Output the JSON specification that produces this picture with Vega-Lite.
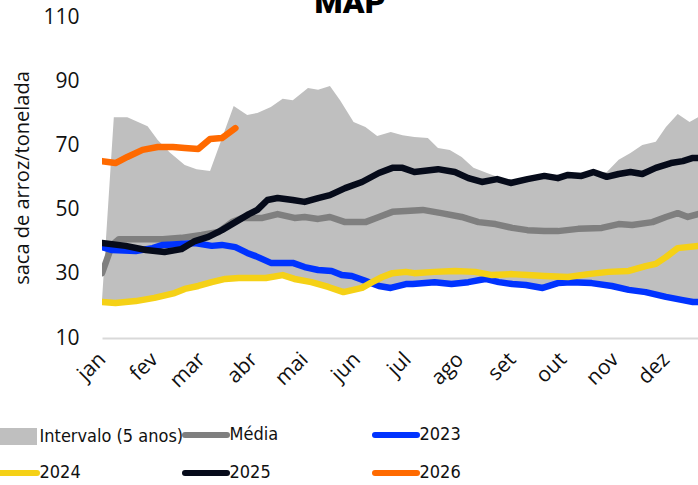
{
  "$schema": "https://vega.github.io/schema/vega-lite/v6.json",
  "width": 596,
  "height": 321,
  "autosize": {"type": "none"},
  "padding": {"left": 102, "top": 17, "right": 0, "bottom": 147},
  "background": "white",
  "title": {"text": "MAP", "fontSize": 32, "fontWeight": 900, "font": "Roboto", "color": "#000000", "anchor": "middle", "dx": -50, "offset": -39, "baseline": "alphabetic"},
  "datasets": {
    "intervalo": [
      {"dia": 0, "min": 21.2, "max": 21.8}, {"dia": 7, "min": 20.9, "max": 78.8}, {"dia": 15, "min": 21.3, "max": 78.8},
      {"dia": 27, "min": 22.2, "max": 76.0}, {"dia": 33, "min": 22.7, "max": 71.7}, {"dia": 40, "min": 23.6, "max": 67.9},
      {"dia": 49, "min": 25.3, "max": 63.9}, {"dia": 56, "min": 26.1, "max": 62.6}, {"dia": 64, "min": 27.2, "max": 62.0},
      {"dia": 78, "min": 28.6, "max": 82.3}, {"dia": 86, "min": 28.7, "max": 79.5}, {"dia": 92, "min": 28.7, "max": 80.1},
      {"dia": 100, "min": 28.8, "max": 82.0}, {"dia": 107, "min": 29.6, "max": 84.5}, {"dia": 113, "min": 28.6, "max": 84.1},
      {"dia": 122, "min": 27.7, "max": 87.9}, {"dia": 128, "min": 26.8, "max": 87.3}, {"dia": 135, "min": 25.8, "max": 88.5},
      {"dia": 141, "min": 24.5, "max": 84.1}, {"dia": 149, "min": 25.0, "max": 77.3}, {"dia": 156, "min": 26.2, "max": 75.7},
      {"dia": 163, "min": 26.2, "max": 72.9}, {"dia": 171, "min": 25.6, "max": 74.2}, {"dia": 178, "min": 26.6, "max": 73.2},
      {"dia": 185, "min": 26.9, "max": 72.6}, {"dia": 193, "min": 27.2, "max": 72.3}, {"dia": 199, "min": 27.3, "max": 69.2},
      {"dia": 206, "min": 26.9, "max": 68.6}, {"dia": 213, "min": 27.1, "max": 66.4}, {"dia": 220, "min": 27.7, "max": 63.0},
      {"dia": 228, "min": 28.3, "max": 61.4}, {"dia": 234, "min": 27.4, "max": 60.2}, {"dia": 242, "min": 26.8, "max": 58.3},
      {"dia": 252, "min": 26.4, "max": 59.5}, {"dia": 262, "min": 25.7, "max": 60.5}, {"dia": 270, "min": 27.1, "max": 59.8},
      {"dia": 276, "min": 27.3, "max": 60.8}, {"dia": 284, "min": 27.3, "max": 60.5}, {"dia": 291, "min": 27.1, "max": 61.7},
      {"dia": 299, "min": 26.5, "max": 61.7}, {"dia": 306, "min": 25.7, "max": 65.5}, {"dia": 313, "min": 24.9, "max": 67.6},
      {"dia": 320, "min": 24.4, "max": 70.1}, {"dia": 328, "min": 23.6, "max": 71.1}, {"dia": 334, "min": 22.8, "max": 75.7},
      {"dia": 341, "min": 22.1, "max": 79.8}, {"dia": 348, "min": 21.3, "max": 77.3}, {"dia": 353, "min": 21.2, "max": 78.8}
    ],
    "series": [
      {"serie": "Média", "dia": 0, "valor": 30.2}, {"serie": "Média", "dia": 6, "valor": 39.0}, {"serie": "Média", "dia": 10, "valor": 40.8},
      {"serie": "Média", "dia": 21, "valor": 40.8}, {"serie": "Média", "dia": 36, "valor": 40.8}, {"serie": "Média", "dia": 47, "valor": 41.2},
      {"serie": "Média", "dia": 59, "valor": 42.1}, {"serie": "Média", "dia": 69, "valor": 43.0}, {"serie": "Média", "dia": 77, "valor": 46.1},
      {"serie": "Média", "dia": 83, "valor": 47.4}, {"serie": "Média", "dia": 95, "valor": 47.4}, {"serie": "Média", "dia": 104, "valor": 48.6},
      {"serie": "Média", "dia": 114, "valor": 47.4}, {"serie": "Média", "dia": 120, "valor": 47.7}, {"serie": "Média", "dia": 128, "valor": 47.1},
      {"serie": "Média", "dia": 135, "valor": 47.7}, {"serie": "Média", "dia": 144, "valor": 46.1}, {"serie": "Média", "dia": 156, "valor": 46.1},
      {"serie": "Média", "dia": 164, "valor": 47.7}, {"serie": "Média", "dia": 172, "valor": 49.3}, {"serie": "Média", "dia": 180, "valor": 49.6},
      {"serie": "Média", "dia": 190, "valor": 49.9}, {"serie": "Média", "dia": 201, "valor": 48.9}, {"serie": "Média", "dia": 213, "valor": 47.7},
      {"serie": "Média", "dia": 223, "valor": 46.1}, {"serie": "Média", "dia": 233, "valor": 45.5}, {"serie": "Média", "dia": 243, "valor": 44.3},
      {"serie": "Média", "dia": 252, "valor": 43.6}, {"serie": "Média", "dia": 262, "valor": 43.3}, {"serie": "Média", "dia": 270, "valor": 43.3},
      {"serie": "Média", "dia": 282, "valor": 44.0}, {"serie": "Média", "dia": 296, "valor": 44.3}, {"serie": "Média", "dia": 306, "valor": 45.5},
      {"serie": "Média", "dia": 314, "valor": 45.2}, {"serie": "Média", "dia": 326, "valor": 46.1}, {"serie": "Média", "dia": 334, "valor": 47.7},
      {"serie": "Média", "dia": 341, "valor": 48.9}, {"serie": "Média", "dia": 347, "valor": 47.7}, {"serie": "Média", "dia": 353, "valor": 48.6},

      {"serie": "2023", "dia": 0, "valor": 38.3}, {"serie": "2023", "dia": 6, "valor": 37.4}, {"serie": "2023", "dia": 20, "valor": 37.1},
      {"serie": "2023", "dia": 30, "valor": 38.0}, {"serie": "2023", "dia": 36, "valor": 39.0}, {"serie": "2023", "dia": 47, "valor": 39.3},
      {"serie": "2023", "dia": 55, "valor": 39.6}, {"serie": "2023", "dia": 65, "valor": 38.7}, {"serie": "2023", "dia": 71, "valor": 39.0},
      {"serie": "2023", "dia": 79, "valor": 38.3}, {"serie": "2023", "dia": 86, "valor": 36.5}, {"serie": "2023", "dia": 91, "valor": 35.5},
      {"serie": "2023", "dia": 100, "valor": 33.4}, {"serie": "2023", "dia": 113, "valor": 33.4}, {"serie": "2023", "dia": 120, "valor": 32.1},
      {"serie": "2023", "dia": 128, "valor": 31.2}, {"serie": "2023", "dia": 136, "valor": 30.9}, {"serie": "2023", "dia": 142, "valor": 29.6},
      {"serie": "2023", "dia": 148, "valor": 29.3}, {"serie": "2023", "dia": 156, "valor": 27.8}, {"serie": "2023", "dia": 164, "valor": 26.2},
      {"serie": "2023", "dia": 171, "valor": 25.6}, {"serie": "2023", "dia": 180, "valor": 26.8}, {"serie": "2023", "dia": 184, "valor": 26.8},
      {"serie": "2023", "dia": 197, "valor": 27.4}, {"serie": "2023", "dia": 207, "valor": 26.8}, {"serie": "2023", "dia": 217, "valor": 27.4},
      {"serie": "2023", "dia": 227, "valor": 28.4}, {"serie": "2023", "dia": 235, "valor": 27.4}, {"serie": "2023", "dia": 243, "valor": 26.8},
      {"serie": "2023", "dia": 251, "valor": 26.5}, {"serie": "2023", "dia": 261, "valor": 25.6}, {"serie": "2023", "dia": 270, "valor": 27.1},
      {"serie": "2023", "dia": 278, "valor": 27.4}, {"serie": "2023", "dia": 290, "valor": 27.1}, {"serie": "2023", "dia": 302, "valor": 26.2},
      {"serie": "2023", "dia": 312, "valor": 25.0}, {"serie": "2023", "dia": 322, "valor": 24.3}, {"serie": "2023", "dia": 334, "valor": 22.8},
      {"serie": "2023", "dia": 344, "valor": 21.8}, {"serie": "2023", "dia": 350, "valor": 21.2}, {"serie": "2023", "dia": 353, "valor": 21.2},

      {"serie": "2024", "dia": 0, "valor": 21.2}, {"serie": "2024", "dia": 8, "valor": 20.9}, {"serie": "2024", "dia": 20, "valor": 21.5},
      {"serie": "2024", "dia": 31, "valor": 22.5}, {"serie": "2024", "dia": 43, "valor": 24.0}, {"serie": "2024", "dia": 49, "valor": 25.3},
      {"serie": "2024", "dia": 57, "valor": 26.2}, {"serie": "2024", "dia": 65, "valor": 27.4}, {"serie": "2024", "dia": 73, "valor": 28.4},
      {"serie": "2024", "dia": 81, "valor": 28.7}, {"serie": "2024", "dia": 91, "valor": 28.7}, {"serie": "2024", "dia": 97, "valor": 28.7},
      {"serie": "2024", "dia": 107, "valor": 29.6}, {"serie": "2024", "dia": 114, "valor": 28.4}, {"serie": "2024", "dia": 124, "valor": 27.4},
      {"serie": "2024", "dia": 134, "valor": 25.9}, {"serie": "2024", "dia": 143, "valor": 24.3}, {"serie": "2024", "dia": 154, "valor": 25.6},
      {"serie": "2024", "dia": 160, "valor": 27.4}, {"serie": "2024", "dia": 166, "valor": 29.0}, {"serie": "2024", "dia": 172, "valor": 30.2},
      {"serie": "2024", "dia": 180, "valor": 30.6}, {"serie": "2024", "dia": 185, "valor": 30.2}, {"serie": "2024", "dia": 197, "valor": 30.6},
      {"serie": "2024", "dia": 209, "valor": 30.9}, {"serie": "2024", "dia": 221, "valor": 30.6}, {"serie": "2024", "dia": 231, "valor": 29.6},
      {"serie": "2024", "dia": 243, "valor": 29.9}, {"serie": "2024", "dia": 252, "valor": 29.6}, {"serie": "2024", "dia": 262, "valor": 29.3},
      {"serie": "2024", "dia": 276, "valor": 29.0}, {"serie": "2024", "dia": 288, "valor": 29.9}, {"serie": "2024", "dia": 300, "valor": 30.6},
      {"serie": "2024", "dia": 312, "valor": 30.9}, {"serie": "2024", "dia": 322, "valor": 32.4}, {"serie": "2024", "dia": 328, "valor": 33.1},
      {"serie": "2024", "dia": 334, "valor": 35.2}, {"serie": "2024", "dia": 341, "valor": 38.0}, {"serie": "2024", "dia": 353, "valor": 38.7},

      {"serie": "2025", "dia": 0, "valor": 39.6}, {"serie": "2025", "dia": 14, "valor": 38.7}, {"serie": "2025", "dia": 26, "valor": 37.4},
      {"serie": "2025", "dia": 37, "valor": 36.8}, {"serie": "2025", "dia": 47, "valor": 37.7}, {"serie": "2025", "dia": 55, "valor": 40.2},
      {"serie": "2025", "dia": 63, "valor": 41.5}, {"serie": "2025", "dia": 71, "valor": 43.6}, {"serie": "2025", "dia": 79, "valor": 46.1},
      {"serie": "2025", "dia": 87, "valor": 48.6}, {"serie": "2025", "dia": 92, "valor": 49.9}, {"serie": "2025", "dia": 98, "valor": 53.0},
      {"serie": "2025", "dia": 104, "valor": 53.6}, {"serie": "2025", "dia": 113, "valor": 53.0}, {"serie": "2025", "dia": 120, "valor": 52.4},
      {"serie": "2025", "dia": 128, "valor": 53.6}, {"serie": "2025", "dia": 135, "valor": 54.5}, {"serie": "2025", "dia": 144, "valor": 56.7},
      {"serie": "2025", "dia": 154, "valor": 58.6}, {"serie": "2025", "dia": 164, "valor": 61.4}, {"serie": "2025", "dia": 172, "valor": 63.0},
      {"serie": "2025", "dia": 178, "valor": 63.0}, {"serie": "2025", "dia": 185, "valor": 61.7}, {"serie": "2025", "dia": 199, "valor": 62.6},
      {"serie": "2025", "dia": 209, "valor": 61.7}, {"serie": "2025", "dia": 217, "valor": 59.8}, {"serie": "2025", "dia": 225, "valor": 58.6},
      {"serie": "2025", "dia": 234, "valor": 59.5}, {"serie": "2025", "dia": 242, "valor": 58.3}, {"serie": "2025", "dia": 252, "valor": 59.5},
      {"serie": "2025", "dia": 262, "valor": 60.5}, {"serie": "2025", "dia": 270, "valor": 59.8}, {"serie": "2025", "dia": 276, "valor": 60.8},
      {"serie": "2025", "dia": 284, "valor": 60.5}, {"serie": "2025", "dia": 291, "valor": 61.7}, {"serie": "2025", "dia": 299, "valor": 60.2},
      {"serie": "2025", "dia": 306, "valor": 61.1}, {"serie": "2025", "dia": 313, "valor": 61.7}, {"serie": "2025", "dia": 320, "valor": 61.1},
      {"serie": "2025", "dia": 328, "valor": 63.0}, {"serie": "2025", "dia": 337, "valor": 64.5}, {"serie": "2025", "dia": 344, "valor": 65.1},
      {"serie": "2025", "dia": 350, "valor": 66.1}, {"serie": "2025", "dia": 353, "valor": 66.1},

      {"serie": "2026", "dia": 0, "valor": 65.1}, {"serie": "2026", "dia": 8, "valor": 64.5}, {"serie": "2026", "dia": 15, "valor": 66.4},
      {"serie": "2026", "dia": 24, "valor": 68.6}, {"serie": "2026", "dia": 33, "valor": 69.5}, {"serie": "2026", "dia": 42, "valor": 69.5},
      {"serie": "2026", "dia": 49, "valor": 69.2}, {"serie": "2026", "dia": 57, "valor": 68.9}, {"serie": "2026", "dia": 64, "valor": 72.0},
      {"serie": "2026", "dia": 71, "valor": 72.3}, {"serie": "2026", "dia": 79, "valor": 75.4}
    ]
  },
  "encoding": {
    "x": {
      "field": "dia", "type": "quantitative",
      "scale": {"domain": [0, 353], "nice": false, "zero": false},
      "axis": {
        "title": null,
        "values": [0, 31, 59, 90, 120, 151, 181, 212, 243, 273, 304, 334],
        "labelExpr": "['jan','fev','mar','abr','mai','jun','jul','ago','set','out','nov','dez'][indexof([0,31,59,90,120,151,181,212,243,273,304,334], datum.value)]",
        "labelAngle": -45, "labelAlign": "right", "labelBaseline": "middle",
        "labelFontSize": 21, "labelFont": "Open Sans", "labelColor": "#111111",
        "labelPadding": 18, "labelFlush": false, "labelOverlap": false, "labelBound": false,
        "ticks": false, "grid": false, "domainColor": "#d9d9d9", "domainWidth": 2
      }
    }
  },
  "layer": [
    {
      "data": {"name": "intervalo"},
      "mark": {"type": "area", "clip": true, "opacity": 1},
      "encoding": {
        "y": {"field": "max", "type": "quantitative"},
        "y2": {"field": "min"},
        "color": {"datum": "Intervalo (5 anos)", "type": "nominal",
          "scale": {"domain": ["Intervalo (5 anos)", "Média", "2023", "2024", "2025", "2026"], "range": ["#bfbfbf", "#7f7f7f", "#0033ff", "#f5d116", "#060b1a", "#ff6a00"]}}
      }
    },
    {
      "data": {"name": "series"},
      "mark": {"type": "line", "clip": true, "strokeWidth": 6.5, "strokeCap": "round", "strokeJoin": "round"},
      "encoding": {
        "y": {
          "field": "valor", "type": "quantitative",
          "scale": {"domain": [10, 110], "nice": false, "zero": false},
          "axis": {
            "title": "saca de arroz/tonelada",
            "values": [10, 30, 50, 70, 90, 110],
            "grid": false, "domain": false, "ticks": false,
            "labelFontSize": 21, "labelFont": "Open Sans", "labelColor": "#111111", "labelPadding": 23,
            "titleFontSize": 20, "titleFont": "Open Sans", "titleFontWeight": "normal", "titleColor": "#111111", "titlePadding": 10
          }
        },
        "color": {
          "field": "serie", "type": "nominal", "sort": null,
          "scale": {"domain": ["Intervalo (5 anos)", "Média", "2023", "2024", "2025", "2026"], "range": ["#bfbfbf", "#7f7f7f", "#0033ff", "#f5d116", "#060b1a", "#ff6a00"]},
          "legend": {
            "title": null, "orient": "none", "legendX": -95, "legendY": 409,
            "columns": 3, "direction": "horizontal", "gridAlign": "all",
            "symbolType": "stroke", "symbolSize": 1764, "symbolStrokeWidth": 6,
            "labelFontSize": 18, "labelFont": "DejaVu Sans Condensed, Roboto", "labelColor": "#111111", "labelOffset": 14.5,
            "columnPadding": -11, "rowPadding": 14, "padding": 0, "labelLimit": 300,
            "values": ["Intervalo (5 anos)", "Média", "2023", "2024", "2025", "2026"],
            "encode": {
              "symbols": {
                "update": {
                  "shape": {"signal": "datum.value === 'Intervalo (5 anos)' ? 'M-1,-0.4H1V0.4H-1Z' : 'stroke'"},
                  "fill": {"signal": "datum.value === 'Intervalo (5 anos)' ? '#bfbfbf' : 'transparent'"},
                  "stroke": {"scale": "color", "field": "value"},
                  "strokeWidth": {"signal": "datum.value === 'Intervalo (5 anos)' ? 0 : 6"},
                  "strokeCap": {"value": "round"},
                  "opacity": {"value": 1}
                }
              }
            }
          }
        }
      }
    }
  ],
  "config": {"view": {"stroke": null}}
}
